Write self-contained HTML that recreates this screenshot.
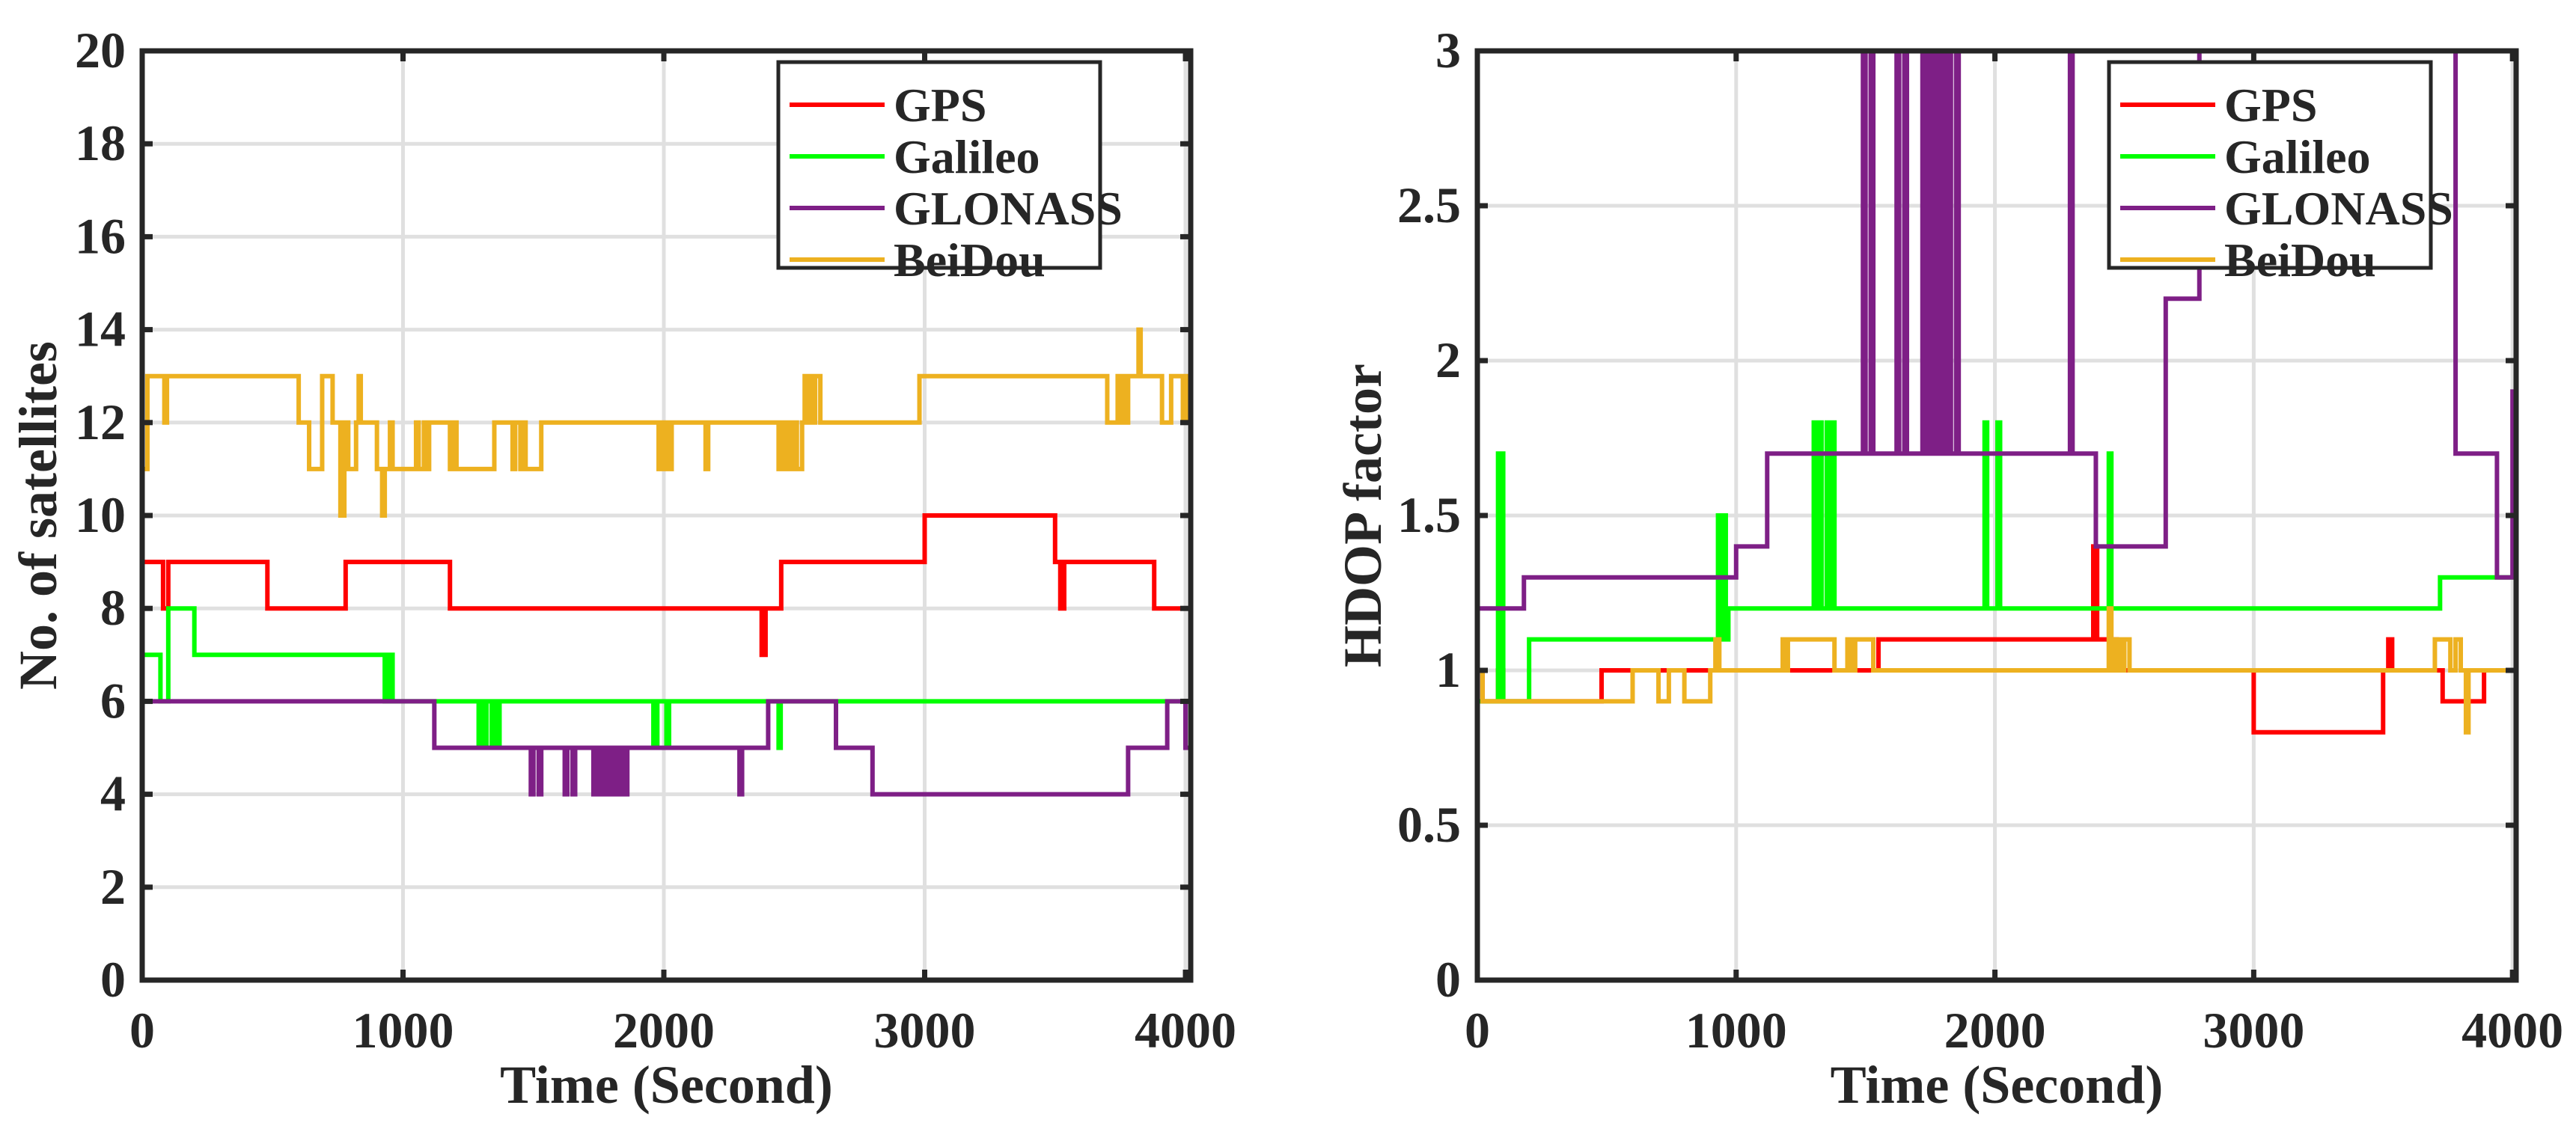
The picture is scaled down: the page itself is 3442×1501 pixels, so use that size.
<!DOCTYPE html>
<html><head><meta charset="utf-8"><style>
html,body{margin:0;padding:0;background:#fff;}
svg{display:block;font-family:"Liberation Serif",serif;font-weight:bold;}
</style></head><body>
<svg id="chart" width="3442" height="1501" viewBox="0 0 3442 1501" xmlns="http://www.w3.org/2000/svg"></svg>
<script>
// ---- data: step series as [time, value] change points ----
const seriesNames = ["GPS","Galileo","GLONASS","BeiDou"];
const seriesColors = ["#ff0000","#00ff00","#7e1f86","#edb120"];
const xTicks = [0,1000,2000,3000,4000];
const satTicks = [0,2,4,6,8,10,12,14,16,18,20];
const hdopTicks = [0,0.5,1,1.5,2,2.5,3];
const hdopTickLabels = ["0","0.5","1","1.5","2","2.5","3"];

const satGPS = [[0,9],[80,8],[100,9],[480,8],[780,9],[1180,8],[2375,7],[2390,8],[2450,9],[3000,10],[3500,9],[3520,8],[3535,9],[3880,8],[4018,8]];
const satGalileo = [[0,7],[70,6],[100,8],[200,7],[930,6],[938,7],[945,6],[952,7],[960,6],[1290,5],[1300,6],[1310,5],[1320,6],[1340,5],[1350,6],[1360,5],[1370,6],[1960,5],[1975,6],[2010,5],[2020,6],[2440,5],[2448,6],[4018,6]];
const satGLONASS = [[0,6],[1120,5],[1490,4],[1500,5],[1520,4],[1530,5],[1620,4],[1630,5],[1650,4],[1660,5],[1730,4],[1740,5],[1750,4],[1760,5],[1770,4],[1780,5],[1790,4],[1800,5],[1810,4],[1820,5],[1830,4],[1840,5],[1850,4],[1860,5],[2290,4],[2300,5],[2400,6],[2660,5],[2800,4],[3780,5],[3930,6],[4000,5],[4018,5]];
const satBeiDou = [[0,11],[20,13],[85,12],[95,13],[600,12],[640,11],[690,13],[730,12],[760,10],[775,12],[790,11],[820,12],[830,13],[838,12],[900,11],[920,10],[930,11],[950,12],[960,11],[1050,12],[1060,11],[1080,12],[1090,11],[1100,12],[1180,11],[1195,12],[1205,11],[1350,12],[1420,11],[1430,12],[1450,11],[1460,12],[1470,11],[1530,12],[1980,11],[1990,12],[2000,11],[2010,12],[2020,11],[2030,12],[2160,11],[2170,12],[2440,11],[2455,12],[2465,11],[2480,12],[2490,11],[2500,12],[2510,11],[2530,12],[2540,13],[2550,12],[2560,13],[2570,12],[2580,13],[2600,12],[2980,13],[3700,12],[3740,13],[3750,12],[3760,13],[3770,12],[3780,13],[3820,14],[3828,13],[3910,12],[3945,13],[3990,12],[4000,13],[4010,12],[4018,12]];

const hdGPS = [[0,1],[20,0.9],[80,1],[100,0.9],[480,1],[1550,1.1],[2380,1.4],[2395,1.1],[2470,1.0],[3000,0.8],[3500,1.0],[3520,1.1],[3535,1.0],[3730,0.9],[3890,1.0],[4018,1.0]];
const hdGalileo = [[0,0.9],[80,1.7],[90,0.9],[95,1.7],[100,0.9],[200,1.1],[930,1.5],[940,1.1],[950,1.5],[960,1.1],[970,1.2],[1300,1.8],[1310,1.2],[1320,1.8],[1330,1.2],[1350,1.8],[1360,1.2],[1370,1.8],[1380,1.2],[1960,1.8],[1970,1.2],[2010,1.8],[2020,1.2],[2440,1.7],[2450,1.2],[3720,1.3],[4018,1.3]];
const hdGLONASS = [[0,1.2],[180,1.3],[1000,1.4],[1120,1.7],[1490,3.5],[1500,1.7],[1520,3.5],[1530,1.7],[1620,3.5],[1630,1.7],[1650,3.5],[1660,1.7],[1720,3.5],[1730,1.7],[1740,3.5],[1750,1.7],[1760,3.5],[1770,1.7],[1780,3.5],[1790,1.7],[1800,3.5],[1810,1.7],[1820,3.5],[1830,1.7],[1850,3.5],[1860,1.7],[2290,3.5],[2300,1.7],[2390,1.4],[2660,2.2],[2790,3.5],[3780,1.7],[3940,1.3],[4000,1.9],[4018,1.9]];
const hdBeiDou = [[0,1.0],[20,0.9],[600,1.0],[700,0.9],[740,1.0],[800,0.9],[900,1.0],[920,1.1],[935,1.0],[1180,1.1],[1195,1.0],[1200,1.1],[1380,1.0],[1430,1.1],[1445,1.0],[1460,1.1],[1530,1.0],[2440,1.2],[2450,1.0],[2460,1.1],[2470,1.0],[2480,1.1],[2490,1.0],[2500,1.1],[2520,1.0],[3700,1.1],[3760,1.0],[3780,1.1],[3800,1.0],[3820,0.8],[3830,1.0],[4018,1.0]];

const NS = "http://www.w3.org/2000/svg";
const svg = document.getElementById('chart');
function mk(tag, attrs, parent){
  const e = document.createElementNS(NS, tag);
  for (const k in attrs) e.setAttribute(k, attrs[k]);
  (parent||svg).appendChild(e);
  return e;
}

function drawPanel(cfg){
  const {x0,x1,y0,y1,xmax,ymax,yTicks,yLabels,series,ytitle,ytitleX,legX,id} = cfg;
  const sx = v => x0 + (x1-x0)*v/xmax;
  const sy = v => y1 - (y1-y0)*v/ymax;
  const g = mk('g', {});
  
  
  xTicks.forEach(t=>{
    const l = mk('line',{x1:sx(t),x2:sx(t),y1:y0,y2:y1,stroke:'#e0e0e0','stroke-width':5},g);
    
    
  });
  yTicks.forEach(t=>{
    const l = mk('line',{x1:x0,x2:x1,y1:sy(t),y2:sy(t),stroke:'#e0e0e0','stroke-width':5},g);
    
    
  });
  const cp = mk('clipPath',{id:id+'-clip'},g);
  mk('rect',{x:x0,y:y0,width:x1-x0,height:y1-y0},cp);
  series.forEach((s,i)=>{
    let d = '';
    s.forEach((p,j)=>{
      if (j===0) d += 'M'+sx(p[0])+','+sy(p[1]);
      else { d += 'H'+sx(p[0])+'V'+sy(p[1]); }
    });
    const pth = mk('path',{d:d,fill:'none',stroke:seriesColors[i],'stroke-width':6,'clip-path':'url(#'+id+'-clip)'},g);
    
    
  });
  const box = mk('rect',{x:x0,y:y0,width:x1-x0,height:y1-y0,fill:'none',stroke:'#262626','stroke-width':7},g);
  
  
  xTicks.forEach(t=>{
    mk('line',{x1:sx(t),x2:sx(t),y1:y1,y2:y1-14,stroke:'#262626','stroke-width':7},g);
    mk('line',{x1:sx(t),x2:sx(t),y1:y0,y2:y0+14,stroke:'#262626','stroke-width':7},g);
    const tx = mk('text',{x:sx(t),y:y1+90,'text-anchor':'middle','font-size':68,fill:'#262626'},g);
    tx.textContent = String(t);
    
    
  });
  yTicks.forEach((t,k)=>{
    mk('line',{x1:x0,x2:x0+14,y1:sy(t),y2:sy(t),stroke:'#262626','stroke-width':7},g);
    mk('line',{x1:x1,x2:x1-14,y1:sy(t),y2:sy(t),stroke:'#262626','stroke-width':7},g);
    const tx = mk('text',{x:x0-22,y:sy(t)+22,'text-anchor':'end','font-size':68,fill:'#262626'},g);
    tx.textContent = yLabels[k];
    
    
  });
  const xt = mk('text',{x:(x0+x1)/2,y:1474,'text-anchor':'middle','font-size':72,fill:'#262626'},g);
  xt.textContent = 'Time (Second)';
  
  
  const yt = mk('text',{x:0,y:0,'text-anchor':'middle','font-size':72,fill:'#262626',transform:'translate('+ytitleX+','+((y0+y1)/2)+') rotate(-90)'},g);
  yt.textContent = ytitle;
  
  
  const lg = mk('g',{},g);
  
  
  mk('rect',{x:legX,y:83,width:430,height:275,fill:'#fff',stroke:'#262626','stroke-width':5},lg);
  seriesNames.forEach((n,i)=>{
    const yy = 140 + i*69;
    const ln = mk('line',{x1:legX+15,x2:legX+142,y1:yy,y2:yy,stroke:seriesColors[i],'stroke-width':6},lg);
    
    
    const tx = mk('text',{x:legX+154,y:yy+22,'font-size':64,fill:'#262626'},lg);
    tx.textContent = n;
    
    
  });
}

drawPanel({id:'satellites',x0:190,x1:1591,y0:68,y1:1310,xmax:4020,ymax:20,
  yTicks:satTicks,yLabels:satTicks.map(String),
  series:[satGPS,satGalileo,satGLONASS,satBeiDou],
  ytitle:'No. of satellites',ytitleX:75,legX:1040});
drawPanel({id:'hdop',x0:1974,x1:3362,y0:68,y1:1310,xmax:4014,ymax:3,
  yTicks:hdopTicks,yLabels:hdopTickLabels,
  series:[hdGPS,hdGalileo,hdGLONASS,hdBeiDou],
  ytitle:'HDOP factor',ytitleX:1845,legX:2818});
</script>
</body></html>
